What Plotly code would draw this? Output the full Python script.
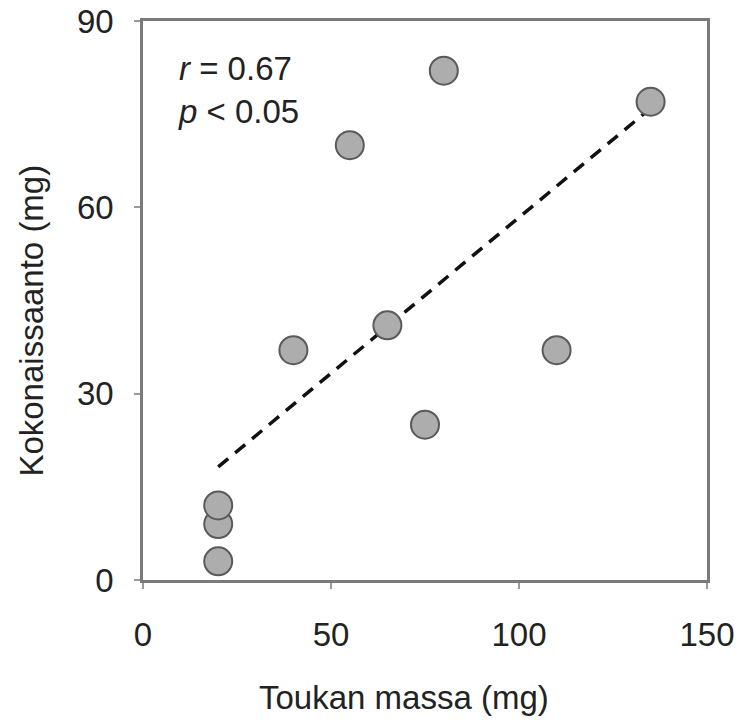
import numpy as np
import plotly.graph_objects as go

mass = [20, 20, 20, 40, 55, 65, 75, 80, 110, 135]
total = [3, 9, 12, 37, 70, 41, 25, 82, 37, 77]
x_ticks = [0, 50, 100, 150]
y_ticks = [0, 30, 60, 90]
x_title = "Toukan massa (mg)"
y_title = "Kokonaissaanto (mg)"

slope, intercept = np.polyfit(mass, total, 1)
fit_x = [min(mass), max(mass)]
fit_y = [slope * v + intercept for v in fit_x]

font = "Liberation Sans, Arial, Helvetica, sans-serif"
fs = 33
tc = "#222222"

fig = go.Figure()
fig.add_trace(go.Scatter(x=fit_x, y=fit_y, mode="lines",
                         line=dict(color="#111111", width=3.5, dash="13px,9px"),
                         showlegend=False, hoverinfo="skip"))
fig.add_trace(go.Scatter(x=mass, y=total, mode="markers",
                         marker=dict(size=28, color="#adadad",
                                     line=dict(color="#5a5a5a", width=2)),
                         showlegend=False))

fig.add_annotation(x=0.058, y=0.952, xref="paper", yref="paper",
                   xanchor="left", yanchor="top", align="left", showarrow=False,
                   text="<i>r</i> = 0.67<br><i>p</i> &lt; 0.05",
                   font=dict(family=font, size=fs, color=tc))

# axis titles
fig.add_annotation(x=0.463, y=0, xref="paper", yref="paper", yshift=-117,
                   xanchor="center", yanchor="middle", showarrow=False,
                   text=x_title, font=dict(family=font, size=fs, color=tc))
fig.add_annotation(x=0, y=0.464, xref="paper", yref="paper", xshift=-111,
                   xanchor="center", yanchor="middle", showarrow=False,
                   textangle=-90,
                   text=y_title, font=dict(family=font, size=fs, color=tc))

axis_common = dict(showline=True, linecolor="#7a7a7a", linewidth=2.5, mirror=True,
                   showgrid=False, zeroline=False, ticks="outside", ticklen=6,
                   tickwidth=1.5, tickcolor="#9a9a9a", automargin=False,
                   tickfont=dict(family=font, size=fs, color=tc))

fig.update_xaxes(range=[0, 150], tickvals=x_ticks, ticklabelstandoff=18, **axis_common)
fig.update_yaxes(range=[0, 90], tickvals=y_ticks, ticklabelstandoff=14, **axis_common)

fig.update_layout(width=741, height=726, margin=dict(l=143, r=34, t=21, b=146),
                  plot_bgcolor="white", paper_bgcolor="white")

fig.write_html("out.html", config={"displayModeBar": False},
               post_script="document.body.style.margin='0';")
